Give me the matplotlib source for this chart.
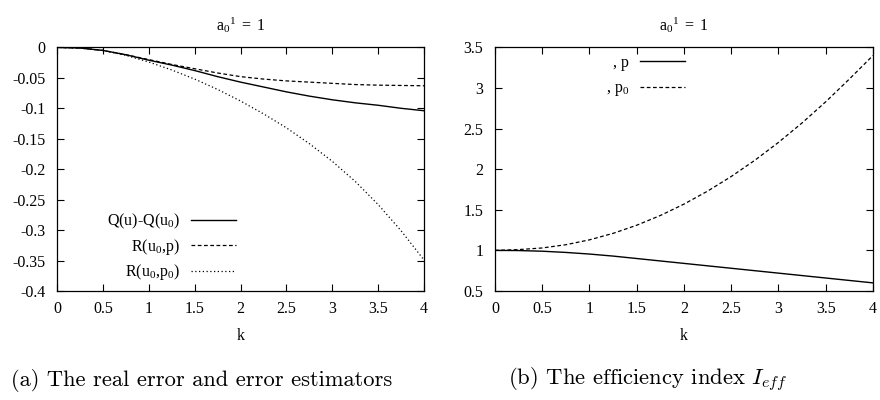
import numpy as np
import matplotlib.pyplot as plt
from matplotlib.ticker import FuncFormatter

plt.rcParams['font.family'] = 'Liberation Serif'
plt.rcParams['mathtext.fontset'] = 'custom'
plt.rcParams['mathtext.rm'] = 'Liberation Serif'
plt.rcParams['mathtext.it'] = 'Liberation Serif:italic'

k = [0, 0.25, 0.5, 0.75, 1, 1.25, 1.5, 1.75, 2, 2.25, 2.5, 2.75, 3, 3.25, 3.5, 3.75, 4]

# (a) real error and the two estimators
q_err = [0, -0.001, -0.005, -0.012, -0.021, -0.029, -0.038, -0.048, -0.057,
         -0.065, -0.073, -0.080, -0.086, -0.091, -0.095, -0.100, -0.104]
r_p = [0, -0.001, -0.005, -0.012, -0.020, -0.028, -0.035, -0.042, -0.048,
       -0.052, -0.055, -0.057, -0.059, -0.061, -0.062, -0.0625, -0.063]
r_p0 = [0, -0.001, -0.005, -0.013, -0.024, -0.037, -0.052, -0.069, -0.088,
        -0.109, -0.132, -0.158, -0.187, -0.220, -0.258, -0.301, -0.349]

# (b) efficiency index
eff_p = [1, 0.998, 0.99, 0.975, 0.955, 0.93, 0.90, 0.87, 0.84,
         0.81, 0.78, 0.75, 0.72, 0.69, 0.66, 0.63, 0.60]
eff_p0 = [1, 1.01, 1.03, 1.07, 1.13, 1.21, 1.31, 1.43, 1.57,
          1.73, 1.91, 2.11, 2.33, 2.57, 2.83, 3.11, 3.40]

xticks = [0, 0.5, 1, 1.5, 2, 2.5, 3, 3.5, 4]
yticks_a = [-0.4, -0.35, -0.3, -0.25, -0.2, -0.15, -0.1, -0.05, 0]
yticks_b = [0.5, 1, 1.5, 2, 2.5, 3, 3.5]

FS = 11.5
fmt = FuncFormatter(lambda v, pos: '%g' % (round(v, 3) + 0.0))

fig = plt.figure(figsize=(8.8, 4), dpi=100)
ax1 = fig.add_axes([0.0648, 0.2725, 0.417, 0.609])
ax2 = fig.add_axes([0.5625, 0.2725, 0.4295, 0.609])

dash = (0, (3, 2))
dot = (0, (1, 2))

ax1.plot(k, q_err, color='black', lw=1.0, label='Q(u)-Q(u$_0$)')
ax1.plot(k, r_p, color='black', lw=0.9, ls=dash, label='R(u$_0$,p)')
ax1.plot(k, r_p0, color='black', lw=0.9, ls=dot, label='R(u$_0$,p$_0$)')
ax1.set_ylim(-0.4, 0)
ax1.set_yticks(yticks_a)

ax2.plot(k, eff_p, color='black', lw=1.0, label=', p')
ax2.plot(k, eff_p0, color='black', lw=0.9, ls=dash, label=', p$_0$')
ax2.set_ylim(0.5, 3.5)
ax2.set_yticks(yticks_b)

for ax in (ax1, ax2):
    ax.set_xlim(0, 4)
    ax.set_xticks(xticks)
    ax.xaxis.set_major_formatter(fmt)
    ax.yaxis.set_major_formatter(fmt)
    ax.tick_params(direction='in', top=True, right=True, length=5, width=0.8,
                   labelsize=FS)
    ax.tick_params(axis='x', pad=7)
    ax.tick_params(axis='y', pad=8.5)
    for s in ax.spines.values():
        s.set_linewidth(0.9)
    ax.set_xlabel('k', fontsize=FS, labelpad=8)
    ax.set_title(r'$\mathrm{a}_0{}^1\mathrm{\ =\ 1}$', fontsize=FS, pad=12)

leg_kw = dict(frameon=False, markerfirst=False, fontsize=FS, borderpad=0,
              borderaxespad=0, handlelength=2.8, handletextpad=0.7)
ax1.legend(loc='center right', bbox_to_anchor=(0.488, 0.18),
           labelspacing=0.35, **leg_kw)
ax2.legend(loc='center right', bbox_to_anchor=(0.503, 0.88),
           labelspacing=0.6, **leg_kw)

fig.text(202 / 880, 1 - 380 / 400, '(a) The real error and error estimators',
         family='cmr10', fontsize=16.2, ha='center', va='center')
fig.text(648 / 880, 1 - 380 / 400, r'(b) The efficiency index $I_{eff}$',
         family='cmr10', math_fontfamily='cm', fontsize=16.3,
         ha='center', va='center')

fig.savefig('out.png')
